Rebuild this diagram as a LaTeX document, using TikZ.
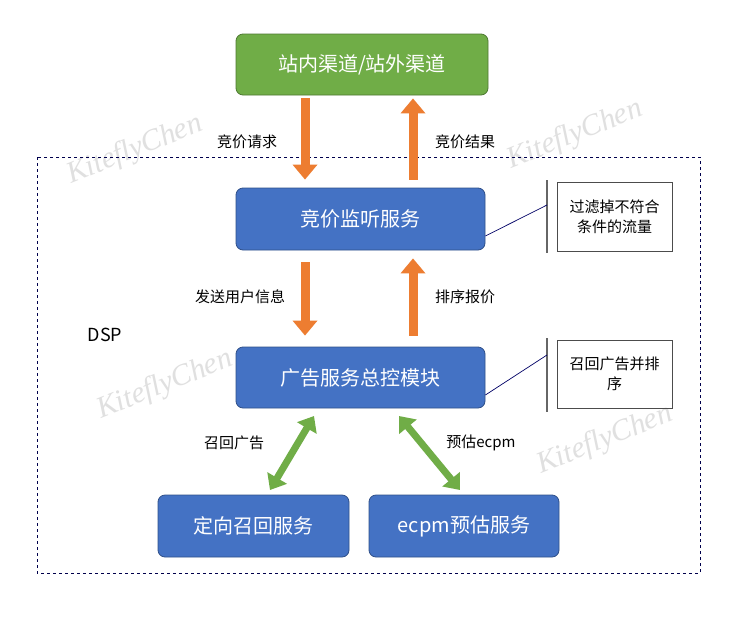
\documentclass[tikz,border=0pt]{standalone}
\usepackage{fontspec}
\setmainfont{Noto Sans CJK SC}
\usetikzlibrary{arrows.meta}
\definecolor{bblue}{HTML}{4472C4}
\definecolor{bgreen}{HTML}{70AD47}
\definecolor{borange}{HTML}{ED7D31}
\tikzset{
 box/.style={draw=bblue!70!black, fill=bblue, rounded corners=7pt, text=white, font=\fontsize{20}{22}\selectfont, line width=0.8pt},
 lab/.style={font=\fontsize{15}{16}\selectfont},
 oarrow/.style={draw=borange, line width=9pt, -{Triangle[length=15pt,width=24pt]}},
 garrow/.style={draw=bgreen, line width=7pt, {Triangle[length=14pt,width=22pt]}-{Triangle[length=14pt,width=22pt]}},
 callout/.style={draw=black!70, line width=0.6pt, font=\fontsize{15}{20}\selectfont, align=center},
 wm/.style={text=black!12, font=\itshape\fontsize{30}{30}\selectfont\fontspec{Liberation Serif}, rotate=22},
}
\begin{document}
\begin{tikzpicture}[x=1pt,y=-1pt]
\useasboundingbox (0,0) rectangle (739,635);
\fill[white] (0,0) rectangle (739,635);
\node[wm] at (135,150) {KiteflyChen};
\node[wm] at (575,135) {KiteflyChen};
\node[wm] at (165,385) {KiteflyChen};
\node[wm] at (605,440) {KiteflyChen};
\draw[dashed, draw=black!70!blue, line width=0.6pt] (37,157) rectangle (700,573);
\node at (105,335) [font=\fontsize{18}{20}\selectfont] {DSP};
\node[box, fill=bgreen, draw=bgreen!70!black, minimum width=252pt, minimum height=61pt] (ch) at (362,64.5) {站内渠道/站外渠道};
\node[box, minimum width=249pt, minimum height=62pt] (bid) at (360.5,219) {竞价监听服务};
\node[box, minimum width=249pt, minimum height=61pt] (ctl) at (360.5,377.5) {广告服务总控模块};
\node[box, minimum width=191pt, minimum height=62pt] (rec) at (253.5,526) {定向召回服务};
\node[box, minimum width=190pt, minimum height=62pt] (ecpm) at (464,526) {ecpm预估服务};
\draw[oarrow] ([yshift=-3pt]ch.south -| 305,0) -- ([yshift=8pt]bid.north -| 305,0);
\draw[oarrow] ([yshift=8pt]bid.north -| 413,0) -- ([yshift=-3pt]ch.south -| 413,0);
\draw[oarrow] ([yshift=-12pt]bid.south -| 305,0) -- ([yshift=11pt]ctl.north -| 305,0);
\draw[oarrow] ([yshift=11pt]ctl.north -| 413,0) -- ([yshift=-8pt]bid.south -| 413,0);
\node[lab] at (247,142) {竞价请求};
\node[lab] at (465,142) {竞价结果};
\node[lab] at (240,297) {发送用户信息};
\node[lab] at (465,297) {排序报价};
\node[lab] at (234,443) {召回广告};
\node[lab] at (481,443) {预估ecpm};
\coordinate (g1a) at (314,416); \coordinate (g1b) at (270,490);
\coordinate (g2a) at (399,416); \coordinate (g2b) at (460,490);
\draw[garrow] (g1a) -- (g1b);
\draw[garrow] (g2a) -- (g2b);
\node[callout, minimum width=115pt, minimum height=69pt] (c1) at (614.5,216.5) {过滤掉不符合\\条件的流量};
\node[callout, minimum width=115pt, minimum height=68pt] (c2) at (614.5,374) {召回广告并排\\序};
\coordinate (b1) at (547,205); \coordinate (b2) at (547,355);
\draw[black!60, line width=1.2pt] (547,180) -- (547,253);
\draw[black!60, line width=1.2pt] (547,338) -- (547,412);
\draw[black!60!blue, line width=0.7pt] (bid.east |- 0,236) -- (b1);
\draw[black!60!blue, line width=0.7pt] (ctl.east |- 0,395) -- (b2);
\end{tikzpicture}
\end{document}
